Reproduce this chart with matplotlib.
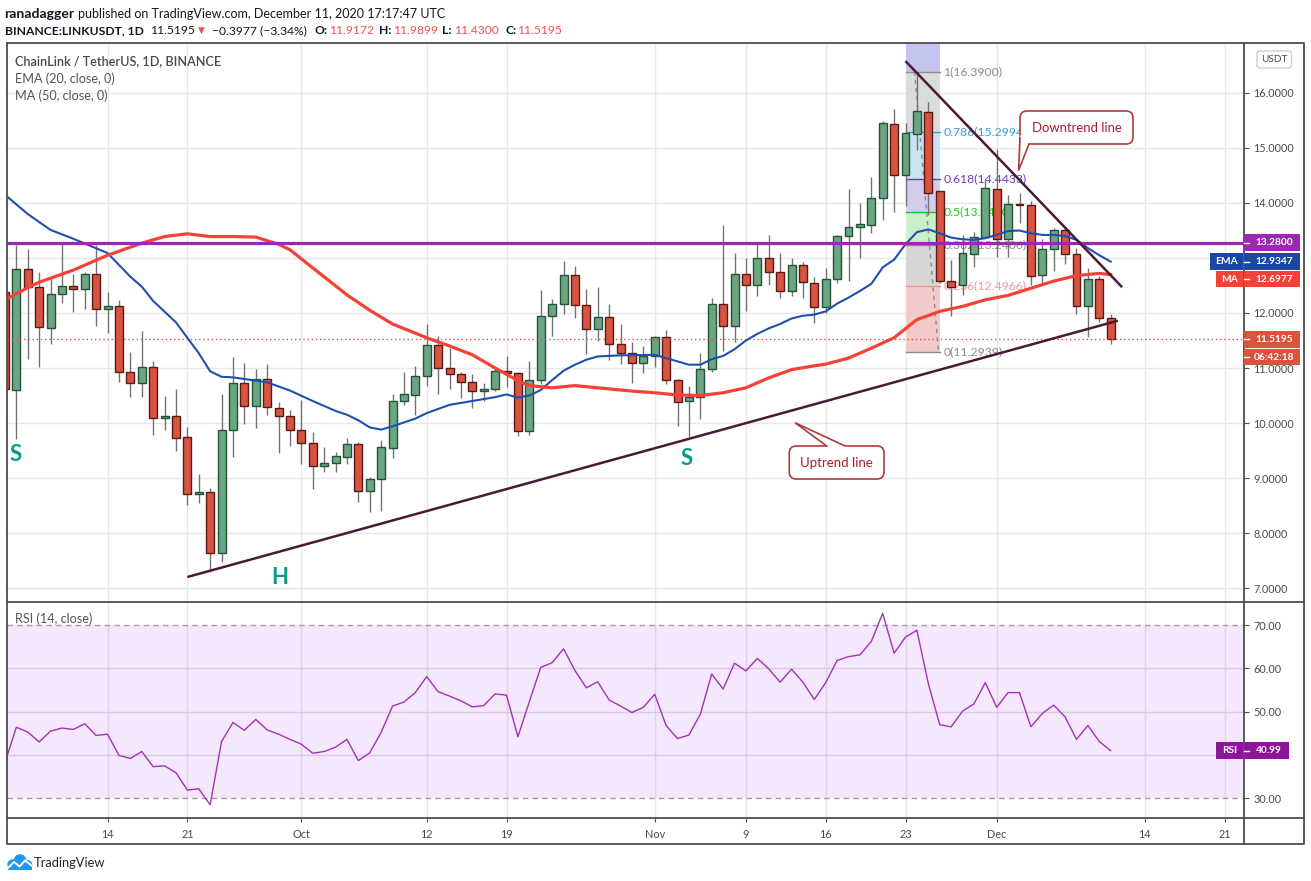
import numpy as np
import pandas as pd
import matplotlib
matplotlib.use('Agg')
import matplotlib.pyplot as plt
import matplotlib.dates as mdates
from matplotlib.patches import Rectangle, Polygon, FancyBboxPatch, Circle

plt.rcParams['font.family'] = ['Lato', 'DejaVu Sans']

W, H = 1311, 881

# LINK/USDT daily candles (Binance), first candle 5 Sep 2020
first_day = '2020-09-05'
opens = [12.38, 10.60, 12.80, 12.47, 11.73, 12.35, 12.49, 12.44, 12.71, 12.07,
         12.13, 10.93, 10.73, 11.02, 10.09, 10.13, 9.75, 8.71, 8.75, 7.64,
         9.87, 10.73, 10.31, 10.80, 10.27, 10.13, 9.87, 9.64, 9.22, 9.27,
         9.38, 9.62, 8.76, 8.98, 9.55, 10.40, 10.51, 10.85, 11.42, 11.00,
         10.89, 10.75, 10.58, 10.62, 10.95, 10.91, 9.85, 10.78, 11.95, 12.16,
         12.69, 12.15, 11.71, 11.93, 11.44, 11.27, 11.09, 11.22, 11.56, 10.78,
         10.40, 10.47, 10.98, 12.16, 11.76, 12.71, 12.51, 13.00, 12.75, 12.40,
         12.87, 12.55, 12.11, 12.62, 13.40, 13.56, 13.60, 14.09, 15.44, 14.50,
         15.26, 15.65, 14.21, 12.59, 12.50, 13.07, 13.38, 14.25, 13.34, 13.99,
         13.96, 12.69, 13.16, 13.50, 13.07, 12.12, 12.61, 11.9172]
highs = [12.50, 13.24, 13.17, 12.74, 12.65, 13.27, 12.70, 12.75, 13.23, 12.39,
         12.24, 11.29, 11.67, 11.13, 10.49, 10.62, 9.93, 9.07, 8.82, 10.53,
         11.20, 11.09, 10.98, 11.07, 10.38, 10.24, 10.42, 9.84, 9.56, 9.47,
         9.73, 9.65, 9.02, 9.69, 10.53, 10.93, 11.04, 11.80, 11.58, 11.36,
         10.93, 10.90, 10.72, 11.00, 11.22, 10.93, 11.13, 12.42, 12.25, 12.95,
         12.85, 12.44, 12.47, 12.16, 11.80, 11.47, 11.40, 11.58, 11.69, 10.80,
         10.67, 11.27, 12.27, 13.60, 13.09, 13.00, 13.27, 13.42, 13.09, 13.00,
         12.93, 12.65, 12.82, 13.42, 14.25, 14.00, 14.47, 15.49, 15.71, 15.45,
         16.39, 15.83, 14.21, 12.96, 13.42, 13.47, 14.41, 14.98, 14.14, 14.19,
         14.03, 13.34, 13.54, 13.54, 13.18, 12.81, 12.67, 11.9899]
lows = [10.50, 9.71, 11.16, 11.02, 11.43, 12.18, 12.02, 12.08, 11.76, 11.64,
        10.75, 10.47, 10.47, 9.78, 9.87, 9.49, 8.51, 8.55, 7.29, 7.47,
        9.38, 9.98, 9.91, 10.15, 9.45, 9.58, 9.25, 8.80, 9.11, 9.11,
        9.25, 8.56, 8.38, 8.40, 9.36, 10.33, 10.15, 10.67, 10.53, 10.62,
        10.45, 10.27, 10.40, 10.58, 10.65, 9.76, 9.78, 10.71, 11.58, 11.98,
        11.91, 11.25, 11.49, 11.15, 11.07, 10.73, 10.91, 11.02, 10.71, 9.95,
        9.75, 10.07, 10.93, 11.31, 11.47, 12.04, 12.31, 12.51, 12.27, 12.31,
        12.27, 11.82, 12.00, 12.55, 12.58, 13.00, 13.45, 13.69, 13.84, 13.95,
        14.96, 13.78, 12.55, 11.94, 12.33, 12.83, 13.36, 13.02, 13.02, 13.63,
        12.50, 12.52, 12.76, 12.89, 11.99, 11.56, 11.83, 11.43]
closes = [10.61, 12.80, 12.47, 11.75, 12.35, 12.49, 12.44, 12.71, 12.07, 12.13,
          10.93, 10.73, 11.02, 10.09, 10.13, 9.73, 8.71, 8.75, 7.64, 9.87,
          10.73, 10.31, 10.80, 10.29, 10.13, 9.87, 9.64, 9.22, 9.27, 9.40,
          9.62, 8.76, 8.98, 9.56, 10.40, 10.53, 10.85, 11.42, 11.00, 10.89,
          10.75, 10.58, 10.62, 10.95, 10.91, 9.85, 10.78, 11.95, 12.16, 12.69,
          12.15, 11.71, 11.93, 11.44, 11.27, 11.09, 11.22, 11.56, 10.78, 10.38,
          10.47, 10.98, 12.16, 11.76, 12.71, 12.51, 13.00, 12.75, 12.40, 12.87,
          12.56, 12.11, 12.62, 13.40, 13.56, 13.62, 14.09, 15.45, 14.51, 15.27,
          15.67, 14.19, 12.59, 12.48, 13.09, 13.38, 14.27, 13.34, 13.98, 13.97,
          12.67, 13.16, 13.50, 13.07, 12.12, 12.61, 11.9172, 11.5195]

# RSI(14) one value per candle
rsi = [38.2, 46.4, 45.3, 43.0, 45.5, 46.2, 45.9, 47.2, 44.5, 44.8,
       39.9, 39.2, 40.8, 37.3, 37.5, 35.9, 31.9, 32.2, 28.5, 43.1,
       47.5, 45.7, 48.2, 45.8, 44.8, 43.6, 42.5, 40.4, 40.8, 41.8,
       43.6, 38.7, 40.5, 45.2, 51.3, 52.2, 54.4, 58.1, 54.6, 53.6,
       52.5, 51.1, 51.4, 54.1, 53.8, 44.2, 52.3, 60.2, 61.3, 64.5,
       59.5, 55.5, 56.9, 52.7, 51.3, 49.8, 51.0, 54.0, 46.8, 43.8,
       44.6, 49.4, 58.7, 55.2, 61.2, 59.4, 62.3, 59.9, 56.8, 59.8,
       56.8, 52.8, 56.7, 61.8, 62.7, 63.1, 66.2, 72.7, 63.5, 67.2,
       68.8, 56.5, 47.0, 46.5, 50.1, 51.8, 56.7, 51.0, 54.4, 54.4,
       46.5, 49.6, 51.5, 48.8, 43.6, 46.8, 43.1, 40.99]

# EMA 20 / MA 50 (candle number, value)
ema_days = [0, 2, 4, 6, 9, 11, 12, 13, 15, 16, 17, 18, 19, 20, 21, 23, 25, 27, 29, 30,
            31, 32, 33, 34, 36, 37, 39, 41, 43, 44, 45, 46, 47, 48, 49, 50, 51, 52, 54, 57,
            58, 59, 60, 61, 62, 63, 64, 65, 66, 67, 68, 69, 70, 71, 72, 73, 74, 75, 76, 77,
            78, 79, 80, 81, 82, 83, 84, 85, 86, 87, 88, 89, 90, 91, 92, 93, 94, 95, 96, 97]
ema_vals = [14.15, 13.80, 13.51, 13.35, 13.09, 12.66, 12.48, 12.22, 11.83, 11.55,
            11.27, 10.94, 10.84, 10.83, 10.80, 10.74, 10.59, 10.40, 10.22, 10.15,
            10.05, 9.92, 9.88, 9.94, 10.08, 10.18, 10.33, 10.40, 10.47, 10.52,
            10.46, 10.50, 10.60, 10.78, 10.95, 11.06, 11.15, 11.21, 11.23, 11.24,
            11.18, 11.12, 11.06, 11.06, 11.16, 11.22, 11.34, 11.50, 11.62, 11.72,
            11.80, 11.90, 11.95, 11.97, 12.03, 12.17, 12.28, 12.40, 12.53, 12.83,
            12.97, 13.25, 13.47, 13.52, 13.45, 13.37, 13.34, 13.33, 13.36, 13.42,
            13.49, 13.50, 13.45, 13.42, 13.42, 13.40, 13.33, 13.18, 13.05, 12.9347]
ma_days = [0, 2, 3, 6, 9, 12, 14, 16, 18, 20, 22, 24, 25, 27, 30, 32, 34, 37, 39, 41,
           43, 45, 46, 48, 50, 52, 55, 57, 59, 61, 63, 65, 67, 69, 71, 72, 74, 76, 78, 80,
           82, 84, 86, 88, 90, 92, 94, 96, 97]
ma_vals = [12.24, 12.46, 12.56, 12.78, 13.05, 13.27, 13.39, 13.44, 13.39, 13.39,
           13.38, 13.25, 13.15, 12.82, 12.33, 12.05, 11.80, 11.55, 11.40, 11.24,
           11.00, 10.77, 10.68, 10.64, 10.68, 10.64, 10.58, 10.55, 10.51, 10.50,
           10.55, 10.64, 10.82, 10.97, 11.04, 11.07, 11.18, 11.36, 11.55, 11.88,
           12.03, 12.12, 12.24, 12.32, 12.45, 12.58, 12.68, 12.72, 12.6977]

resistance = 13.28
fib_high, fib_low = 16.39, 11.2939
fib_levels = [1.618, 1, 0.786, 0.618, 0.5, 0.382, 0.236, 0]
fib_fills = ['#c3c4f0', '#dbdbdb', '#c8e4f3', '#d5cbea', '#c9f1c9', '#d6d6d6', '#f3caca']
fib_colors = ['#9fa2e0', '#8c8c8c', '#3a9fd4', '#6b3db2', '#1ec81e', '#8c8c8c', '#f09696', '#8c8c8c']
uptrend = [('2020-09-21 00:00', 7.20), ('2020-12-11 15:00', 11.86)]
downtrend = [('2020-11-23 00:00', 16.58), ('2020-12-12 00:00', 12.47)]

tick_dates = ['2020-09-14', '2020-09-21', '2020-10-01', '2020-10-12', '2020-10-19', '2020-11-01',
              '2020-11-09', '2020-11-16', '2020-11-23', '2020-12-01', '2020-12-14', '2020-12-21']
tick_labels = ['14', '21', 'Oct', '12', '19', 'Nov', '9', '16', '23', 'Dec', '14', '21']
price_ticks = [7, 8, 9, 10, 11, 12, 13, 14, 15, 16]

dates = pd.date_range(first_day, periods=len(closes), freq='D')
xs = mdates.date2num(dates)
d0 = xs[0]
o = np.array(opens); c = np.array(closes)
tick_x = mdates.date2num(pd.to_datetime(tick_dates))

fig = plt.figure(figsize=(W / 100, H / 100), dpi=100)
ax = fig.add_axes([7 / W, 1 - 601.7 / H, (1244.3 - 7) / W, (601.7 - 43) / H])
rax = fig.add_axes([7 / W, 1 - 817.7 / H, (1244.3 - 7) / W, (817.7 - 601.7) / H], sharex=ax)

for a in (ax, rax):
    for s in a.spines.values():
        s.set_visible(False)
    a.yaxis.tick_right()
    for tx in tick_x:
        a.axvline(tx, color='#e8e8e8', lw=1, zorder=0)

ax.set_xlim(d0 + 0.18, d0 + 108.72)
ax.set_ylim(6.751, 16.909)
rax.set_ylim(25.52, 75.38)

for p in price_ticks:
    ax.axhline(p, color='#e8e8e8', lw=1, zorder=0)
ax.set_yticks(price_ticks)
# the 13.0000 label sits under the price tags, as on the original
ax.set_yticklabels(['' if p == 13 else f'{p:.4f}' for p in price_ticks])
ax.tick_params(axis='y', length=3.6, pad=2.9, colors='#4d4d4d', labelsize=7.8, labelcolor='#4a4a4a')
ax.tick_params(axis='x', bottom=False, labelbottom=False)

# fibonacci retracement
fx0, fx1 = xs[79], xs[82]
fib_prices = [fib_low + lv * (fib_high - fib_low) for lv in fib_levels]
for i in range(len(fib_levels) - 1):
    ax.fill_between([fx0, fx1], fib_prices[i + 1], fib_prices[i], color=fib_fills[i], lw=0, zorder=1)
for lv, pr, col in zip(fib_levels, fib_prices, fib_colors):
    if lv == 1.618:
        continue
    ax.plot([fx0, fx1], [pr, pr], color=col, lw=1, zorder=1.5)
    ax.text(fx1 + 0.32, pr, f'{lv}({pr:.4f})', color=col, fontsize=8.8, va='center', ha='left', zorder=1.5)
ax.plot([xs[79] + 0.8, xs[81] + 0.9], [fib_high, fib_low], color='#8c8c8c', lw=1, ls=(0, (3, 3)), zorder=1.6)

# candles
up = c >= o
ax.vlines(xs, lows, highs, color='#737375', lw=1, zorder=3)
ax.bar(xs, np.maximum(np.abs(c - o), 0.02), 0.7, bottom=np.minimum(o, c),
       color=np.where(up, '#6ca583', '#d75442'), edgecolor=np.where(up, '#225437', '#5b1a13'),
       lw=1, zorder=3.5)

ax.plot(d0 + np.array(ema_days), ema_vals, color='#1f4fb0', lw=1.5, zorder=4)
ax.plot(d0 + np.array(ma_days), ma_vals, color='#f44336', lw=2.3, zorder=4)
ax.axhline(closes[-1], color='#e0533b', lw=1, ls=(0, (1, 2)), zorder=4)
ax.axhline(resistance, color='#9c27b0', lw=2.3, zorder=5)

for line in (uptrend, downtrend):
    lx = mdates.date2num(pd.to_datetime([line[0][0], line[1][0]], format='%Y-%m-%d %H:%M'))
    ax.plot(lx, [line[0][1], line[1][1]], color='#4a1a35', lw=1.8, zorder=6, solid_capstyle='butt')

for lab, dx, py_ in [('S', 0.9, 9.42), ('H', 24.1, 7.20), ('S', 59.8, 9.36)]:
    ax.text(d0 + dx, py_, lab, color='#0a9a8c', fontsize=16, fontweight='bold', ha='center', va='center', zorder=6)

# RSI pane
rax.axhspan(30, 70, color='#a020f0', alpha=0.1, lw=0, zorder=0.5)
for lv in (40, 50, 60):
    rax.axhline(lv, color='#e0e0e0', lw=1, zorder=0)
for lv in (30, 70):
    rax.axhline(lv, color='#a09aa6', lw=1, ls=(0, (4, 3)), zorder=1)
rax.plot(xs, rsi, color='#a033b5', lw=1.0, zorder=3)
rax.set_yticks([30, 40, 50, 60, 70])
rax.set_yticklabels(['30.00', '', '50.00', '60.00', '70.00'])
rax.tick_params(axis='y', length=3.6, pad=2.9, colors='#4d4d4d', labelsize=7.8, labelcolor='#4a4a4a')
rax.set_xticks(tick_x)
rax.set_xticklabels(tick_labels)
rax.tick_params(axis='x', length=3, pad=5, colors='#4d4d4d', labelsize=7.8, labelcolor='#4a4a4a')

# overlay in pixel units
ov = fig.add_axes([0, 0, 1, 1])
ov.set_xlim(0, W)
ov.set_ylim(H, 0)
ov.axis('off')
rend = fig.canvas.get_renderer()


def fit(t, width):
    bb = t.get_window_extent(renderer=rend)
    t.set_fontsize(t.get_fontsize() * width / bb.width)
    return t


def py(a, v):
    return H - a.transData.transform((0, v))[1]


dark = '#131722'
red = '#f05050'
t = fit(ov.text(4.6, 13.5, 'ranadagger', fontsize=10, fontweight='bold', color=dark, va='center'), 70)
fit(ov.text(78, 13.5, 'published on TradingView.com, December 11, 2020 17:17:47 UTC',
            fontsize=10, color=dark, va='center'), 368)
t = fit(ov.text(4.6, 30.5, 'BINANCE:LINKUSDT, 1D', fontsize=10, fontweight='bold', color=dark, va='center'), 139)
fs = t.get_fontsize()
chg = closes[-1] - closes[-2]
pieces = [(150, f'{closes[-1]:.4f}', dark, 'normal'), (198, '▼', red, 'normal'),
          (212, f'−{abs(chg):.4f} (−{abs(chg) / closes[-2] * 100:.2f}%)', dark, 'normal'),
          (314.6, 'O:', dark, 'bold'), (329, f'{opens[-1]:.4f}', red, 'normal'),
          (379, 'H:', dark, 'bold'), (393, f'{highs[-1]:.4f}', red, 'normal'),
          (442, 'L:', dark, 'bold'), (454, f'{lows[-1]:.4f}', red, 'normal'),
          (505, 'C:', dark, 'bold'), (517.4, f'{closes[-1]:.4f}', red, 'normal')]
for px, s, col, wt in pieces:
    ov.text(px, 30.5, s, fontsize=fs * (0.75 if s == '▼' else 1), color=col, fontweight=wt, va='center')

t = fit(ov.text(15.3, 61, 'ChainLink / TetherUS, 1D, BINANCE', fontsize=10, color='#4a4a4a',
                fontweight='semibold', va='center'), 205)
fs = t.get_fontsize()
ov.text(15.3, 79, 'EMA (20, close, 0)', fontsize=fs, color='#555555', va='center')
ov.text(15.3, 95.7, 'MA (50, close, 0)', fontsize=fs, color='#555555', va='center')
ov.text(15.3, 618.5, 'RSI (14, close)', fontsize=fs, color='#555555', va='center')

# frame
fc = '#4d4d4d'
ov.plot([7, 1304, 1304, 7, 7], [43, 43, 844, 844, 43], color=fc, lw=1.3)
ov.plot([1244.3, 1244.3], [43, 844], color=fc, lw=1.3)
ov.plot([7, 1304], [601.7, 601.7], color=fc, lw=1.3)
ov.plot([7, 1304], [817.7, 817.7], color=fc, lw=1.3)

ov.add_patch(FancyBboxPatch((1257, 51), 34.5, 17, boxstyle='round,pad=0,rounding_size=3',
                            fc='white', ec='#cfcfcf', lw=1))
ov.text(1274.2, 59.8, 'USDT', fontsize=7.2, color='#4a4a4a', ha='center', va='center')


def tag(yc, text, color, x1=1299.5, label=None, lx0=None):
    ov.add_patch(Rectangle((1244.3, yc - 8.3), x1 - 1244.3, 16.6, color=color, lw=0, zorder=10))
    ov.plot([1244.3, 1249], [yc, yc], color='white', lw=1, zorder=11)
    ov.text((1249 + x1) / 2, yc + 0.3, text, color='white', fontsize=7.3, fontweight='bold',
            ha='center', va='center', zorder=12)
    if label:
        ov.add_patch(Rectangle((lx0, yc - 8.3), 1242.7 - lx0, 16.6, color=color, lw=0, zorder=10))
        ov.text((lx0 + 1242.7) / 2, yc + 0.3, label, color='white', fontsize=7.3, fontweight='bold',
                ha='center', va='center', zorder=12)


tag(py(ax, resistance), f'{resistance:.4f}', '#9c27b0')
y_ema = py(ax, ema_vals[-1])
tag(y_ema, f'{ema_vals[-1]:.4f}', '#1a48a3', label='EMA', lx0=1210)
tag(max(py(ax, ma_vals[-1]), y_ema + 17.5), f'{ma_vals[-1]:.4f}', '#f44336', label='MA', lx0=1216)
y_last = py(ax, closes[-1])
tag(y_last, f'{closes[-1]:.4f}', '#d9533f')
tag(y_last + 17.5, '06:42:18', '#d9533f')
tag(py(rax, rsi[-1]), f'{rsi[-1]:.2f}', '#8e1599', x1=1289, label='RSI', lx0=1216)


def callout(x0, y0, x1, y1, p1, tip, p2, text, tw):
    ec = '#b03a3a'
    ov.add_patch(FancyBboxPatch((x0, y0), x1 - x0, y1 - y0, boxstyle='round,pad=0,rounding_size=7',
                                fc='white', ec=ec, lw=1.2, zorder=13))
    tip = np.array(tip, float)
    pts = []
    for p in (p1, p2):
        p = np.array(p, float)
        d = (p - tip) / np.hypot(*(p - tip))
        pts.append(p + d * 3)
    ov.add_patch(Polygon([pts[0], tip, pts[1]], closed=True, fc='white', ec='none', zorder=14))
    ov.plot([p1[0], tip[0], p2[0]], [p1[1], tip[1], p2[1]], color=ec, lw=1.2, zorder=15,
            solid_joinstyle='miter')
    fit(ov.text((x0 + x1) / 2, (y0 + y1) / 2 + 0.5, text, color='#a81c2a', fontsize=10,
                ha='center', va='center', zorder=16), tw)


callout(1020, 111, 1133, 144, (1020, 138), (1018.6, 170.5), (1029, 144), 'Downtrend line', 90)
callout(789.3, 446, 884, 479, (826.7, 446), (795, 422.7), (845, 446), 'Uptrend line', 72.7)

# footer logo
blue = '#2196f3'
for cx, cy, r in [(12.5, 864.5, 5.2), (20, 860.5, 6.3), (27.5, 864.8, 4.8)]:
    ov.add_patch(Circle((cx, cy), r, color=blue, lw=0))
ov.add_patch(Rectangle((7.5, 864.5), 24.7, 5.6, color=blue, lw=0))
ov.plot([8.5, 14, 19.5, 25, 31.5], [867.5, 862, 866.5, 860.5, 865.5], color='white', lw=1.4)
fit(ov.text(33.5, 862.7, 'TradingView', fontsize=10, color='#1e222d', va='center'), 71.5)

fig.savefig('out.png', dpi=100)
